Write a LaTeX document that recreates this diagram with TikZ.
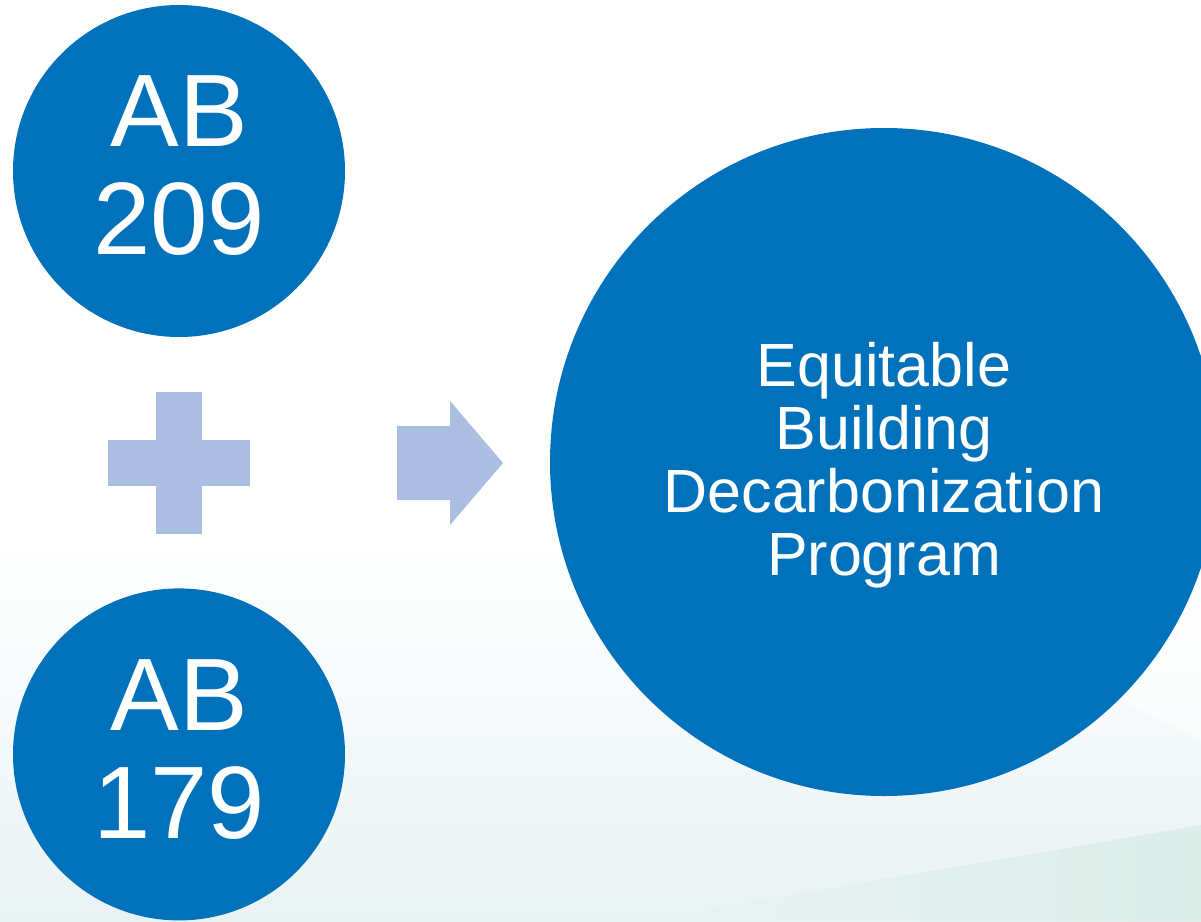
\documentclass[tikz,border=0pt]{standalone}
\usepackage{fontspec}
\setmainfont{Liberation Sans}
\usetikzlibrary{positioning}
\definecolor{billblue}{RGB}{0,114,187}
\definecolor{signblue}{RGB}{171,189,224}
\definecolor{mist}{RGB}{233,242,243}
\definecolor{sage}{RGB}{219,238,232}

\begin{document}
\begin{tikzpicture}[x=1pt,y=-1pt]
\useasboundingbox (0,0) rectangle (1201,921);
% backdrop
\fill[white] (0,0) rectangle (1201,921);
\shade[top color=white,bottom color=mist] (0,540) rectangle (1201,921);
\fill[white,opacity=0.6] (1040,660) -- (1201,740) -- (1201,560) -- cycle;
\shade[left color=mist,right color=sage] (640,921) -- (1201,825) -- (1201,921) -- cycle;
\begin{scope}
\tikzstyle{bill}=[circle, fill=billblue, text=white, inner sep=0pt, minimum size=332pt, align=center, font=\fontsize{103}{108}\selectfont]
\tikzstyle{program}=[circle, fill=billblue, text=white, inner sep=0pt, minimum size=668pt, align=center, font=\fontsize{61}{63}\selectfont]
\tikzstyle{sign}=[fill=signblue]
\node[bill] (ab209) at (179,171) {AB\\209\rule[-11pt]{0pt}{0pt}};
\node[bill] (ab179) [below=251pt of ab209] {AB\\179\rule[-11pt]{0pt}{0pt}};
\node[program] (ebdp) at (884,462) {\rule{0pt}{51pt}Equitable\\Building\\Decarbonization\\Program};
\coordinate (plus) at (179,463);
\coordinate (go) at (450,463);
% plus sign and arrow
\fill[sign] (plus) ++(-71,-23) rectangle ++(142,46);
\fill[sign] (plus) ++(-23,-71) rectangle ++(46,142);
\fill[sign] (go) ++(-53,-37) -- ++(53,0) -- ++(0,-25) -- ++(53,62) -- ++(-53,62) -- ++(0,-25) -- ++(-53,0) -- cycle;
\end{scope}
\end{tikzpicture}
\end{document}
